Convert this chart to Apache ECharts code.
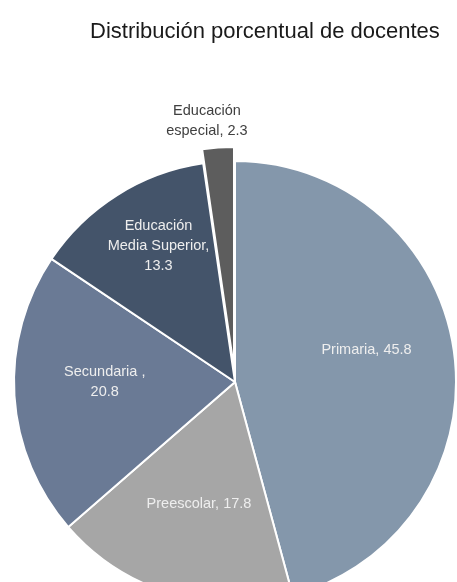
<!DOCTYPE html>
<html>
<head>
<meta charset="utf-8">
<script src="https://cdn.jsdelivr.net/npm/echarts@6/dist/echarts.min.js"></script>
<style>
  html, body { margin: 0; padding: 0; background: #ffffff; }
  #chart { width: 457px; height: 582px; }
</style>
</head>
<body>
<div id="chart"></div>
<script>
// Teachers by education level (percent)
const categories = ['Primaria', 'Preescolar', 'Secundaria ', 'Educación\nMedia Superior', 'Educación\nespecial'];
const values = [45.8, 17.8, 20.8, 13.3, 2.3];
const colors = ['#8497ab', '#a6a6a6', '#6a7a95', '#44546a', '#5d5d5d'];
const explodedIndex = 4;

// Text placed between category name and value in each label
const labelSeparators = [', ', ', ', ',\n', ',\n', ', '];
// Per-slice label nudges (px) relative to the library's placement
const labelNudge = [[19, -17], [-3, 13], [-17, -7], [-16, -40], [25, -12]];

const chart = echarts.init(document.getElementById('chart'), null, { renderer: 'canvas' });

const data = categories.map((name, i) => {
  const item = {
    name: name,
    value: values[i],
    itemStyle: { color: colors[i] }
  };
  if (i === explodedIndex) {
    item.selected = true;
    item.label = {
      position: 'outside',
      color: '#404040'
    };
    item.labelLine = { show: false };
  }
  return item;
});

chart.setOption({
  animation: false,
  title: {
    text: 'Distribución porcentual de docentes',
    left: 85,
    top: 16,
    textStyle: {
      fontFamily: 'Liberation Sans, Arial, sans-serif',
      fontSize: 22,
      fontWeight: 'normal',
      color: '#1a1a1a'
    }
  },
  series: [{
    type: 'pie',
    center: [235, 382],
    radius: 221,
    startAngle: 90,
    clockwise: true,
    selectedMode: 'single',
    selectedOffset: 14,
    avoidLabelOverlap: false,
    emphasis: { disabled: true },
    itemStyle: { borderColor: '#ffffff', borderWidth: 2 },
    label: {
      show: true,
      position: 'inside',
      fontFamily: 'Liberation Sans, Arial, sans-serif',
      fontSize: 14.5,
      lineHeight: 20,
      align: 'center',
      color: '#eeeeee',
      formatter: p => p.name + labelSeparators[p.dataIndex] + p.value
    },
    labelLine: { show: false },
    labelLayout: p => {
      const n = labelNudge[p.dataIndex];
      const out = { dx: n[0], dy: n[1] };
      if (p.dataIndex === explodedIndex) out.align = 'center';
      return out;
    },
    data: data
  }]
});
</script>
</body>
</html>
